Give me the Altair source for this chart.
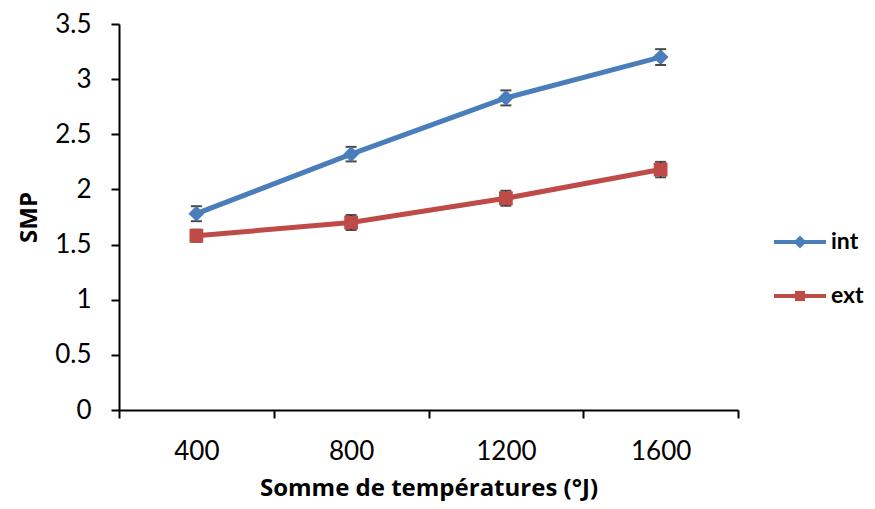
import altair as alt
import pandas as pd

# ---- data ----
categories = ["400", "800", "1200", "1600"]
series_names = ["int", "ext"]
int_values = [1.78, 2.32, 2.83, 3.20]
ext_values = [1.58, 1.70, 1.92, 2.18]
int_errors = [0.068, 0.066, 0.068, 0.072]
ext_errors = [0.055, 0.068, 0.068, 0.070]
y_ticks = [0, 0.5, 1, 1.5, 2, 2.5, 3, 3.5]

rows = []
for s, vals, errs in (("int", int_values, int_errors), ("ext", ext_values, ext_errors)):
    for c, v, e in zip(categories, vals, errs):
        rows.append({"temp": c, "series": s, "smp": v, "err": e})
df = pd.DataFrame(rows)

FONT = "Lato"
TITLE_FONT = "Open Sans"
colors = ["#4A7EBB", "#BE4B48"]

# legend symbols: line segment with marker in the middle (unit box -1..1)
legend_paths = [
    "M-1,-0.075H1V0.075H-1Z M0,-0.25L0.25,0L0,0.25L-0.25,0Z",
    "M-1,-0.075H1V0.075H-1Z M-0.19,-0.19H0.19V0.19H-0.19Z",
]

x_enc = alt.X(
    "temp:N",
    sort=categories,
    scale=alt.Scale(paddingInner=0, paddingOuter=0),
    axis=alt.Axis(
        title="Somme de températures (°J)",
        tickBand="extent",
        labelAngle=0,
        tickSize=8,
        labelPadding=20,
        titlePadding=12,
    ),
)
y_enc = alt.Y(
    "smp:Q",
    scale=alt.Scale(domain=[0, 3.5], nice=False, zero=True),
    axis=alt.Axis(
        title="SMP",
        values=y_ticks,
        format="~g",
        tickSize=8,
        labelPadding=20,
        titlePadding=13,
        grid=False,
    ),
)


def color_enc(legend=None):
    if legend is None:
        return alt.Color("series:N", scale=alt.Scale(domain=series_names, range=colors), legend=None)
    return alt.Color("series:N", scale=alt.Scale(domain=series_names, range=colors), legend=legend)


base = alt.Chart(df).transform_calculate(
    lo="datum.smp - datum.err",
    hi="datum.smp + datum.err",
)

err_rule = base.mark_rule(color="black", strokeWidth=1.5).encode(
    x=x_enc, y=alt.Y("lo:Q"), y2="hi:Q"
)
cap_lo = base.mark_tick(color="black", thickness=2, size=11, orient="horizontal").encode(
    x=x_enc, y=alt.Y("lo:Q")
)
cap_hi = base.mark_tick(color="black", thickness=2, size=11, orient="horizontal").encode(
    x=x_enc, y=alt.Y("hi:Q")
)

lines = base.mark_line(strokeWidth=5).encode(
    x=x_enc, y=y_enc, color=color_enc(), detail="series:N"
)

points = base.transform_calculate(
    marker="datum.series == 'int' ? 'diamond' : 'square'",
    msize="datum.series == 'int' ? 250 : 190",
).mark_point(filled=True, opacity=1, strokeWidth=0).encode(
    x=x_enc,
    y=y_enc,
    color=color_enc(),
    shape=alt.Shape("marker:N", scale=None),
    size=alt.Size("msize:Q", scale=None),
)

legend_layer = base.transform_filter("false").mark_point(
    filled=True, opacity=1, strokeWidth=0
).encode(
    x=x_enc,
    y=y_enc,
    color=color_enc(alt.Legend(title=None)),
    shape=alt.Shape(
        "series:N",
        scale=alt.Scale(domain=series_names, range=legend_paths),
        legend=alt.Legend(title=None),
    ),
)

chart = (
    alt.layer(err_rule, lines, cap_lo, cap_hi, points, legend_layer)
    .resolve_scale(color="independent", shape="independent")
    .properties(
        width=619,
        height=386,
        autosize=alt.AutoSizeParams(type="none"),
        padding={"left": 111, "top": 16, "right": 129, "bottom": 91},
    )
    .configure_view(stroke=None)
    .configure_axis(
        domainColor="black",
        domainWidth=2,
        tickColor="black",
        tickWidth=2,
        labelColor="black",
        titleColor="black",
        labelFont=FONT,
        titleFont=TITLE_FONT,
        labelFontSize=26,
        titleFontSize=24,
        titleFontWeight="bold",
        labelFontWeight="normal",
    )
    .configure_legend(
        orient="none",
        legendX=655,
        legendY=192,
        padding=0,
        symbolSize=2704,
        symbolStrokeWidth=0,
        symbolOpacity=1,
        labelFont=FONT,
        labelFontSize=23,
        labelFontWeight="bold",
        labelColor="black",
        labelOffset=5,
        rowPadding=16,
    )
)

chart.save("out.html", embed_options={"renderer": "svg", "actions": False})
